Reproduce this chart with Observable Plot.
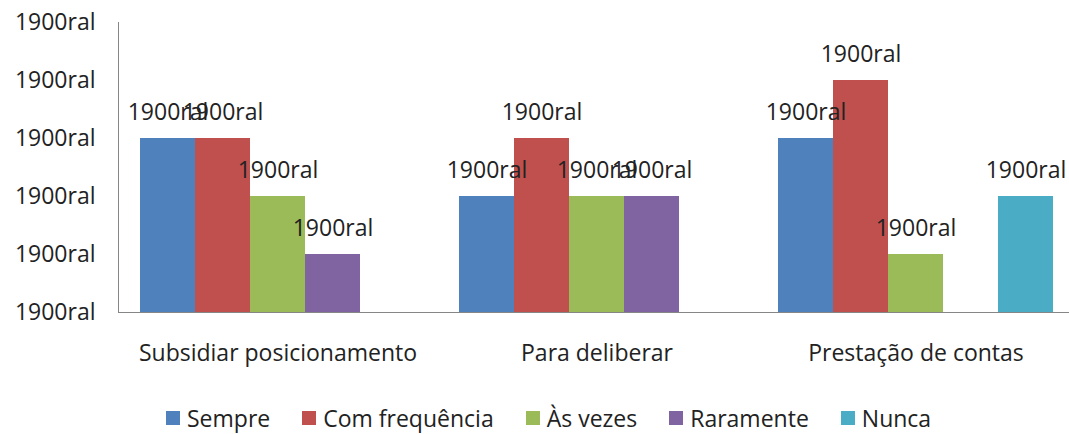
<!DOCTYPE html>
<html>
<head>
<meta charset="utf-8">
<script src="https://cdn.jsdelivr.net/npm/d3@7"></script>
<script src="https://cdn.jsdelivr.net/npm/@observablehq/plot@0.6"></script>
<style>
  html, body { margin: 0; padding: 0; background: #fff; }
  #chart { width: 1069px; height: 434px; position: relative; overflow: hidden; font-family: "Open Sans", sans-serif; }
  #legend { display: flex; align-items: center; font-size: 23px; color: #222; position: absolute; left: 166px; top: 405px; line-height: 26px; }
  #legend .item { display: flex; align-items: center; margin-right: 32px; }
  #legend .sw { width: 14px; height: 14px; margin-right: 7px; }
</style>
</head>
<body>
<div id="chart"></div>
<script>
const categories = ["Subsidiar posicionamento", "Para deliberar", "Prestação de contas"];
const series = ["Sempre", "Com frequência", "Às vezes", "Raramente", "Nunca"];
const colors = ["#4F81BD", "#C0504D", "#9BBB59", "#8064A2", "#4BACC6"];
const sempre = [3, 2, 3];
const comFrequencia = [3, 3, 4];
const asVezes = [2, 2, 1];
const raramente = [1, 2, null];
const nunca = [null, null, 2];
const yTicks = [0, 1, 2, 3, 4, 5];
const yTickLabels = ["1900ral", "1900ral", "1900ral", "1900ral", "1900ral", "1900ral"];
const dataLabel = "1900ral";

const seriesValues = [sempre, comFrequencia, asVezes, raramente, nunca];
const rows = [];
categories.forEach((c, ci) => {
  series.forEach((s, si) => {
    const v = seriesValues[si][ci];
    if (v != null) rows.push({category: c, series: s, value: v, label: dataLabel});
  });
});

const font = "'Open Sans', sans-serif";
const plot = Plot.plot({
  width: 1069,
  height: 395,
  marginLeft: 118,
  marginRight: 0,
  marginTop: 22,
  marginBottom: 83,
  style: {fontFamily: font, fontSize: "23px", color: "#222", background: "transparent"},
  fx: {domain: categories, range: [118, 1075], padding: 0, label: null},
  x: {domain: series, paddingInner: 0, paddingOuter: 0.38, axis: null},
  y: {domain: [0, 5], range: [312, 22], axis: null},
  color: {domain: series, range: colors},
  marks: [
    Plot.barY(rows, {fx: "category", x: "series", y: "value", fill: "series"}),
    Plot.ruleY([0], {stroke: "#868686", strokeWidth: 1}),
    Plot.frame({anchor: "left", facetAnchor: "left", stroke: "#868686"}),
    Plot.axisY({ticks: yTicks, tickFormat: (d) => yTickLabels[yTicks.indexOf(d)], tickSize: 0, tickPadding: 23, fontSize: 23, anchor: "left", label: null}),
    Plot.axisFx({anchor: "bottom", tickSize: 0, tickPadding: 32, fontSize: 23, label: null}),
    Plot.text(rows, {fx: "category", x: "series", y: "value", text: "label", dy: -26, fontSize: 23, fill: "#222"})
  ]
});
document.getElementById("chart").appendChild(plot);

const legend = document.createElement("div");
legend.id = "legend";
series.forEach((s, i) => {
  const item = document.createElement("div");
  item.className = "item";
  const sw = document.createElement("div");
  sw.className = "sw";
  sw.style.background = colors[i];
  const t = document.createElement("span");
  t.textContent = s;
  item.appendChild(sw);
  item.appendChild(t);
  legend.appendChild(item);
});
document.getElementById("chart").appendChild(legend);
</script>
</body>
</html>
